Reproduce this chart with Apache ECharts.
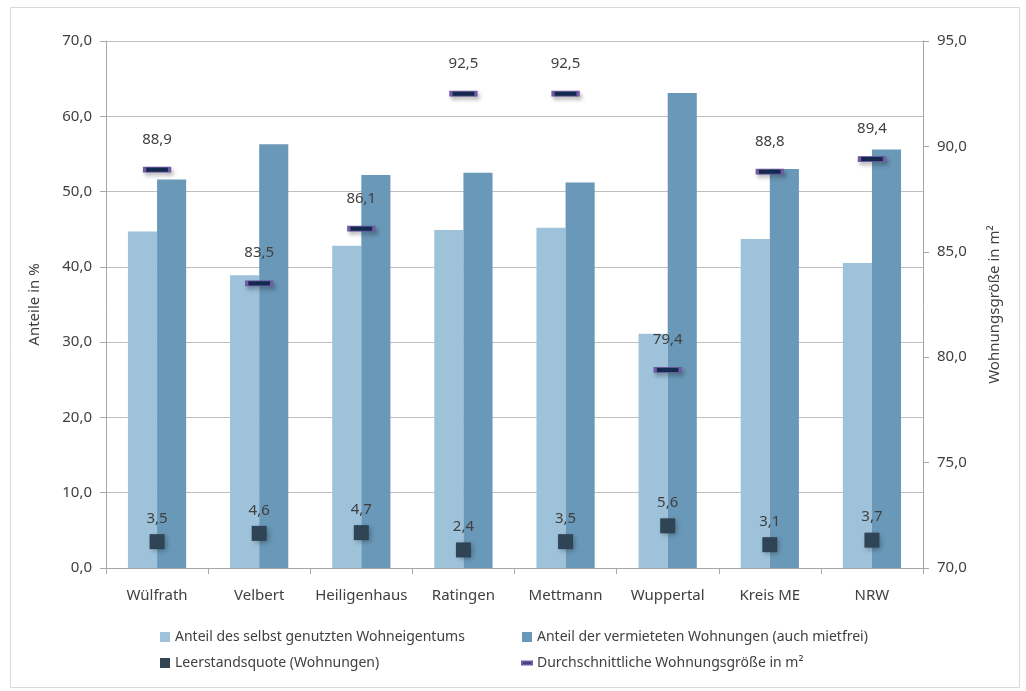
<!DOCTYPE html>
<html>
<head>
<meta charset="utf-8">
<title>Wohnen</title>
<script src="https://cdn.jsdelivr.net/npm/echarts@6/dist/echarts.min.js"></script>
<style>
  html, body { margin: 0; padding: 0; background: #fff; }
  #chart { width: 1026px; height: 691px; }
</style>
</head>
<body>
<div id="chart"></div>
<script>
// Daten
const orte = ['Wülfrath', 'Velbert', 'Heiligenhaus', 'Ratingen', 'Mettmann', 'Wuppertal', 'Kreis ME', 'NRW'];
const selbstGenutzt = [44.7, 38.9, 42.8, 44.9, 45.2, 31.1, 43.7, 40.5];
const vermietet = [51.6, 56.3, 52.2, 52.5, 51.2, 63.1, 53.0, 55.6];
const leerstand = [3.5, 4.6, 4.7, 2.4, 3.5, 5.6, 3.1, 3.7];
const wohnungsgroesse = [88.9, 83.5, 86.1, 92.5, 92.5, 79.4, 88.8, 89.4];

const txt = '#404040';
const font = '"Noto Sans", "DejaVu Sans", sans-serif';
const fmt = (v) => v.toFixed(1).replace('.', ',');

const chart = echarts.init(document.getElementById('chart'));

const option = {
  textStyle: { fontFamily: font, color: txt },
  animation: false,
  graphic: [{
    type: 'rect',
    shape: { x: 10.5, y: 7.5, width: 1009, height: 680 },
    style: { fill: 'none', stroke: '#d9d9d9', lineWidth: 1 },
    silent: true,
  }],
  grid: { left: 106, right: 103, top: 41, bottom: 123 },
  legend: [
    {
      left: 155, top: 625, orient: 'vertical', itemGap: 12,
      itemWidth: 10, itemHeight: 10,
      textStyle: { fontSize: 14, color: txt, fontFamily: font },
      data: [
        { name: 'Anteil des selbst genutzten Wohneigentums', icon: 'rect' },
        { name: 'Leerstandsquote (Wohnungen)', icon: 'rect' },
      ],
    },
    {
      left: 516, top: 625, orient: 'vertical', itemGap: 12,
      itemWidth: 10, itemHeight: 10,
      textStyle: { fontSize: 14, color: txt, fontFamily: font },
      data: [
        { name: 'Anteil der vermieteten Wohnungen (auch mietfrei)', icon: 'rect' },
        { name: 'Durchschnittliche Wohnungsgröße in m²', icon: 'path://M0,4 L10,4 L10,7 L0,7 Z' },
      ],
    },
  ],
  xAxis: {
    type: 'category',
    data: orte,
    axisLine: { lineStyle: { color: '#a6a6a6' } },
    axisTick: { show: true, length: 6, lineStyle: { color: '#a6a6a6' } },
    axisLabel: { color: txt, fontSize: 15, margin: 20, interval: 0, fontFamily: font },
  },
  yAxis: [
    {
      type: 'value', min: 0, max: 70, interval: 10,
      name: 'Anteile in %', nameLocation: 'middle', nameGap: 64,
      nameTextStyle: { color: txt, fontSize: 15, fontFamily: font },
      axisLine: { show: true, lineStyle: { color: '#a6a6a6' } },
      axisTick: { show: true, length: 6, lineStyle: { color: '#a6a6a6' } },
      axisLabel: { color: txt, fontSize: 15, margin: 14, formatter: fmt, fontFamily: font },
      splitLine: { lineStyle: { color: '#bfbfbf' } },
    },
    {
      type: 'value', min: 70, max: 95, interval: 5,
      name: 'Wohnungsgröße in m²', nameLocation: 'middle', nameGap: 64,
      nameTextStyle: { color: txt, fontSize: 15, fontFamily: font },
      axisLine: { show: true, lineStyle: { color: '#a6a6a6' } },
      axisTick: { show: true, length: 6, lineStyle: { color: '#a6a6a6' } },
      axisLabel: { color: txt, fontSize: 15, margin: 14, formatter: fmt, fontFamily: font },
      splitLine: { show: false },
    },
  ],
  series: [
    {
      name: 'Anteil des selbst genutzten Wohneigentums',
      type: 'bar',
      data: selbstGenutzt,
      barGap: '0%',
      barCategoryGap: '43%',
      itemStyle: { color: '#9dc2da' },
    },
    {
      name: 'Anteil der vermieteten Wohnungen (auch mietfrei)',
      type: 'bar',
      data: vermietet,
      itemStyle: { color: '#6a98b8' },
    },
    {
      name: 'Leerstandsquote (Wohnungen)',
      type: 'scatter',
      data: leerstand,
      symbol: 'rect',
      symbolSize: 15,
      z: 5,
      itemStyle: {
        color: '#2f4555', opacity: 1,
        shadowBlur: 5, shadowOffsetX: 2, shadowOffsetY: 2, shadowColor: 'rgba(0,0,0,0.3)',
      },
      label: {
        show: true, position: 'top', distance: 8,
        formatter: (p) => fmt(p.value), color: txt, fontSize: 15, fontFamily: font,
      },
    },
    {
      name: 'Durchschnittliche Wohnungsgröße in m²',
      type: 'scatter',
      yAxisIndex: 1,
      data: wohnungsgroesse,
      symbol: 'rect',
      symbolSize: [25, 5],
      z: 5,
      itemStyle: {
        color: '#142c52', borderColor: '#7459a6', borderWidth: 1.5, opacity: 1,
        shadowBlur: 4, shadowOffsetX: 2, shadowOffsetY: 3, shadowColor: 'rgba(0,0,0,0.25)',
      },
      label: {
        show: true, position: 'top', distance: 20,
        formatter: (p) => fmt(p.value), color: txt, fontSize: 15, fontFamily: font,
      },
    },
  ],
};

chart.setOption(option);
</script>
</body>
</html>
